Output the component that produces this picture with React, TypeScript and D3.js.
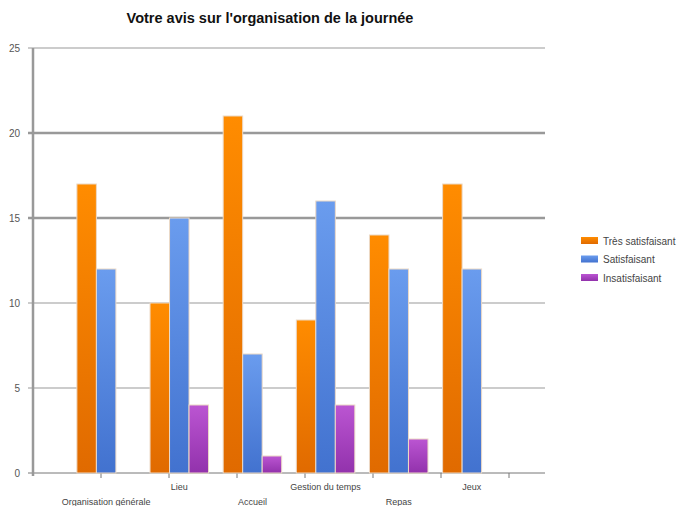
import React from "react";
import * as d3 from "d3";

const categories = ["Organisation générale", "Lieu", "Accueil", "Gestion du temps", "Repas", "Jeux"];
const seriesNames = ["Très satisfaisant", "Satisfaisant", "Insatisfaisant"];
const tresSatisfaisant = [17, 10, 21, 9, 14, 17];
const satisfaisant = [12, 15, 7, 16, 12, 12];
const insatisfaisant = [0, 4, 1, 4, 2, 0];
const yTicks = [0, 5, 10, 15, 20, 25];
const thickGrid = [15, 20];

const seriesValues = [tresSatisfaisant, satisfaisant, insatisfaisant];
const gradients = [
  ["#ff8c00", "#e06a00"],
  ["#6a9cee", "#4272cf"],
  ["#bb55d2", "#9232ac"],
];

export default function App() {
  const W = 680, H = 506;
  const left = 33, right = 545, top = 48, bottom = 473;
  const y = d3.scaleLinear().domain([0, 25]).range([bottom, top]);
  const x = d3.scalePoint<string>().domain(categories).range([left, right]).padding(1);
  const barW = 19.5;
  const tickScale = d3.scaleLinear().domain([0, (right - left) / 68]).range([left, right]);
  const xTicks = [1, 2, 3, 4, 5, 6, 7];

  return (
    <svg width={W} height={H} style={{ position: "absolute", left: 0, top: 0 }} fontFamily="Liberation Sans, Arial, sans-serif">
      <defs>
        {gradients.map((g, i) => (
          <linearGradient key={i} id={`g${i}`} x1="0" y1="0" x2="0" y2="1">
            <stop offset="0%" stopColor={g[0]} />
            <stop offset="100%" stopColor={g[1]} />
          </linearGradient>
        ))}
      </defs>
      <rect width={W} height={H} fill="#fff" />
      <text x={270} y={23} textAnchor="middle" fontSize={14.5} fontWeight="bold" fill="#111">
        Votre avis sur l'organisation de la journée
      </text>
      {yTicks.map((t) => (
        <g key={t}>
          <line x1={28} x2={right} y1={y(t)} y2={y(t)} stroke={t === 0 ? "#777" : "#999"} strokeWidth={thickGrid.includes(t) ? 2.5 : 1} />
          <text x={20} y={y(t) + 4} textAnchor="end" fontSize={10} fill="#555">{t}</text>
        </g>
      ))}
      <line x1={left} x2={left} y1={top} y2={bottom + 3} stroke="#999" strokeWidth={2.5} />
      {xTicks.map((t) => (
        <line key={t} x1={tickScale(t)} x2={tickScale(t)} y1={bottom} y2={bottom + 5} stroke="#777" />
      ))}
      {categories.map((c, ci) => {
        const cx = x(c)!;
        return (
          <g key={c}>
            {seriesValues.map((vals, si) => {
              const v = vals[ci];
              if (v <= 0) return null;
              const bx = cx - 1.5 * barW + si * barW;
              return (
                <rect key={si} x={bx} y={y(v)} width={barW} height={bottom - y(v)} fill={`url(#g${si})`} stroke="#ecd9c6" strokeWidth={1} />
              );
            })}
            <text x={cx} y={ci % 2 === 0 ? 505 : 490} textAnchor="middle" fontSize={9} fill="#444">{c}</text>
          </g>
        );
      })}
      {seriesNames.map((s, i) => (
        <g key={s}>
          <rect x={581} y={237 + i * 18.5} width={17} height={7} fill={`url(#g${i})`} />
          <text x={603} y={244.5 + i * 18.5} fontSize={10} fill="#444">{s}</text>
        </g>
      ))}
    </svg>
  );
}
